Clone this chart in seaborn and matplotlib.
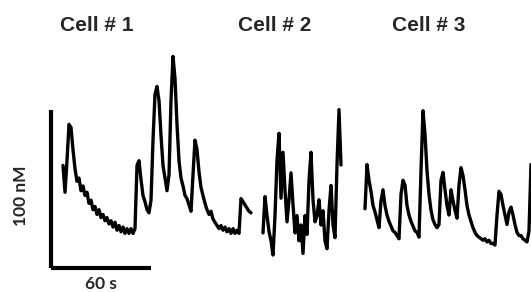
import numpy as np
import pandas as pd
import seaborn as sns
import matplotlib.pyplot as plt

# calcium traces, sampled every 1.2 s, values in nM above each cell's minimum
dt = 1.2
cell1 = [44, 27, 47, 70, 68, 54, 42, 34, 36, 28, 31, 25, 27, 20, 22, 16, 18, 13, 16, 11,
         13, 9, 11, 7, 9, 5, 8, 3, 6, 2, 5, 1, 4, 1, 4, 1, 4, 44, 47, 35,
         25, 21, 16, 14, 22, 60, 89, 94, 85, 63, 44, 36, 28, 38, 85, 113, 99, 70, 47, 36,
         31, 25, 23, 19, 15, 38, 60, 54, 40, 30, 25, 20, 16, 13, 15, 10, 8, 6, 4, 6,
         3, 5, 2, 4, 1, 4, 1, 3, 1, 23, 21, 19, 17, 15, 14]
cell2 = [14, 37, 25, 15, 9, 0, 25, 60, 77, 36, 65, 41, 21, 35, 52, 32, 14, 25, 9, 19,
         1, 25, 13, 47, 65, 35, 21, 25, 35, 19, 28, 9, 4, 28, 44, 19, 11, 57, 92, 57]
cell3 = [23, 51, 41, 34, 25, 21, 16, 11, 28, 35, 25, 19, 15, 12, 9, 8, 6, 4, 32, 41,
         38, 25, 19, 15, 12, 9, 8, 5, 47, 85, 70, 47, 32, 22, 16, 13, 11, 13, 41, 46,
         35, 25, 19, 35, 28, 22, 17, 38, 49, 44, 35, 25, 19, 15, 11, 8, 6, 5, 4, 3,
         4, 2, 3, 1, 1, 0, 19, 34, 32, 25, 19, 13, 21, 24, 19, 13, 8, 6, 6, 4,
         3, 2, 9, 51]
titles = ["Cell # 1", "Cell # 2", "Cell # 3"]

# placement of each trace on the canvas (s, nM)
t_offsets = [37.8, 157.8, 219.0]
y_offsets = [36.1, 23.4, 29.7]

# scale bar
bar_t = 60
bar_c = 100
bar_x0, bar_y0 = 30.6, 15.2

frames = []
for name, vals, t0, y0 in zip(titles, [cell1, cell2, cell3], t_offsets, y_offsets):
    vals = np.array(vals, dtype=float)
    frames.append(pd.DataFrame({"time": t0 + np.arange(len(vals)) * dt,
                                "conc": y0 + vals, "cell": name}))
df = pd.concat(frames, ignore_index=True)

sns.set_style("white")
fig = plt.figure(figsize=(5.31, 2.92), dpi=100)
ax = fig.add_axes([0, 0, 1, 1])

sns.lineplot(data=df, x="time", y="conc", units="cell", estimator=None,
             color="black", lw=2.4, ax=ax, legend=False)

ax.plot([bar_x0, bar_x0], [bar_y0, bar_y0 + bar_c], color="black", lw=3, solid_capstyle="butt")
ax.plot([bar_x0, bar_x0 + bar_t], [bar_y0, bar_y0], color="black", lw=3, solid_capstyle="butt")

ax.text(bar_x0 + bar_t / 2, 5.2, "60 s", ha="center", va="center",
        fontsize=12.5, fontweight="bold", family="Lato")
ax.text(12.5, 61, "100 nM", ha="center", va="center", rotation=90,
        fontsize=12.5, fontweight="bold", family="Lato")

title_x = [58, 165, 257]
for x, name in zip(title_x, titles):
    ax.text(x, 168.5, name, ha="center", va="center", fontsize=15,
            fontweight="bold", family="Liberation Sans")

ax.set_xlim(0, 318.6)
ax.set_ylim(0, 184.8)
ax.axis("off")

fig.savefig("out.png", dpi=100)
